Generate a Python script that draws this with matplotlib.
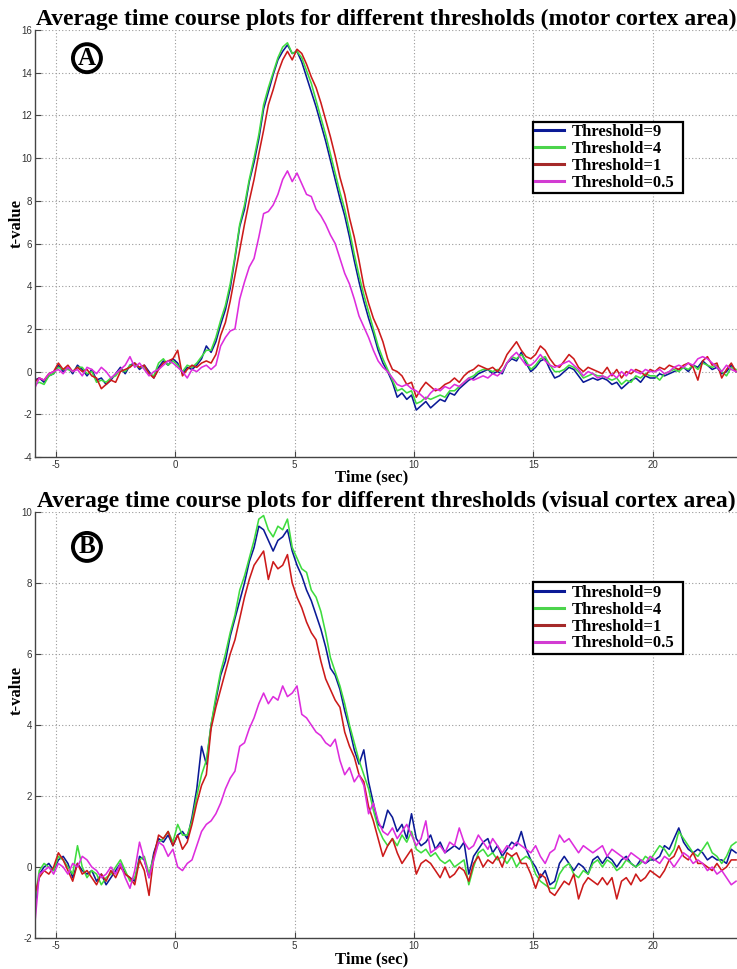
import numpy as np
import matplotlib
matplotlib.use("Agg")
import matplotlib.pyplot as plt

plt.rcParams["axes.unicode_minus"] = False

# ---------------- data ----------------
# common time grid (sec), sampled every 0.2 s
time_sec = np.round(np.arange(-5.9, 23.55, 0.2), 1)

labels = ["Threshold=9", "Threshold=4", "Threshold=1", "Threshold=0.5"]
colors = ["#0b1a96", "#3fdc3f", "#cc1a1a", "#dd2ddd"]
legend_colors = ["#0b1a96", "#4cd44c", "#a52a2a", "#d23cd2"]

# Panel A: motor cortex
motor_thr9 = [
    -0.4, -0.3, -0.5, -0.2, -0.1, 0.3, 0.0, 0.2, -0.1, 0.3,
    0.1, -0.2, 0.1, -0.4, -0.3, -0.6, -0.4, -0.1, 0.2, -0.1,
    0.3, 0.4, 0.1, 0.3, 0.0, -0.3, 0.2, 0.5, 0.3, 0.6,
    0.4, -0.1, 0.2, 0.1, 0.3, 0.6, 1.2, 0.9, 1.4, 2.2,
    2.9, 3.9, 5.3, 6.8, 7.6, 8.9, 9.8, 10.9, 12.3, 13.1,
    13.9, 14.6, 15.0, 15.3, 14.9, 15.0, 14.5, 13.8, 13.1, 12.4,
    11.6, 10.8, 9.9, 9.0, 8.1, 7.3, 6.3, 5.2, 4.2, 3.3,
    2.5, 1.8, 1.0, 0.4, 0.0, -0.5, -1.2, -1.0, -1.3, -1.1,
    -1.8, -1.6, -1.4, -1.7, -1.5, -1.3, -1.4, -1.0, -1.1, -0.8,
    -0.6, -0.4, -0.3, -0.1, 0.0, 0.1, -0.1, 0.0, -0.1, 0.4,
    0.6, 0.5, 0.9, 0.4, 0.0, 0.2, 0.5, 0.6, 0.1, -0.3,
    -0.2, 0.0, 0.2, 0.1, -0.2, -0.5, -0.4, -0.3, -0.4, -0.3,
    -0.4, -0.6, -0.5, -0.8, -0.6, -0.4, -0.3, -0.5, -0.2, -0.3,
    -0.3, -0.1, -0.2, -0.1, 0.0, 0.1, 0.2, 0.0, 0.3, 0.2,
    0.5, 0.3, 0.1, 0.2, -0.1, 0.0, 0.3, 0.0]
motor_thr4 = [
    -0.6, -0.5, -0.6, -0.2, -0.1, 0.2, 0.1, 0.1, 0.0, 0.2,
    0.2, -0.1, 0.0, -0.5, -0.4, -0.5, -0.3, -0.2, 0.1, 0.0,
    0.3, 0.3, 0.2, 0.2, -0.1, -0.2, 0.4, 0.6, 0.3, 0.5,
    0.3, 0.0, 0.3, 0.2, 0.4, 0.7, 1.0, 1.0, 1.6, 2.4,
    3.1, 4.1, 5.4, 6.9, 7.8, 9.0, 10.0, 11.1, 12.5, 13.3,
    14.0, 14.7, 15.2, 15.4, 14.9, 15.0, 14.7, 14.1, 13.5, 12.7,
    11.9, 11.1, 10.2, 9.3, 8.4, 7.6, 6.6, 5.5, 4.5, 3.6,
    2.8, 2.0, 1.2, 0.6, 0.1, -0.4, -0.9, -0.8, -1.0, -0.9,
    -1.5, -1.4, -1.2, -1.3, -1.2, -1.1, -1.2, -0.9, -0.9, -0.7,
    -0.5, -0.3, -0.2, 0.0, 0.1, 0.1, 0.0, 0.1, 0.0, 0.4,
    0.7, 0.6, 0.8, 0.5, 0.1, 0.3, 0.6, 0.7, 0.3, 0.0,
    0.0, 0.1, 0.3, 0.2, 0.0, -0.3, -0.2, -0.1, -0.2, -0.2,
    -0.3, -0.4, -0.3, -0.6, -0.4, -0.5, -0.2, -0.3, -0.1, -0.2,
    -0.2, -0.4, -0.1, 0.0, 0.1, 0.0, 0.2, 0.1, 0.3, 0.1,
    0.4, 0.3, 0.2, 0.3, 0.0, -0.2, 0.2, 0.1]
motor_thr1 = [
    -0.5, -0.3, -0.4, -0.1, 0.0, 0.4, 0.1, 0.3, 0.0, 0.2,
    0.0, 0.1, -0.2, -0.3, -0.8, -0.6, -0.4, -0.5, 0.0, 0.1,
    0.2, 0.4, 0.2, 0.3, -0.1, -0.3, 0.1, 0.4, 0.5, 0.6,
    1.0, -0.2, 0.1, 0.3, 0.2, 0.4, 0.5, 0.4, 0.8, 1.7,
    2.3, 3.3, 4.5, 5.7, 6.9, 8.0, 9.0, 10.2, 11.3, 12.5,
    13.2, 14.0, 14.6, 15.0, 14.6, 15.1, 14.9, 14.4, 13.8, 13.3,
    12.6, 11.8, 11.0, 10.1, 9.1, 8.3, 7.2, 6.3, 5.2, 4.0,
    3.2, 2.5, 2.0, 1.4, 0.6, 0.1, 0.0, -0.2, -0.6, -0.5,
    -1.2, -0.8, -0.5, -0.7, -0.9, -0.8, -0.6, -0.5, -0.3, -0.5,
    -0.2, 0.0, 0.1, 0.3, 0.2, 0.1, 0.2, 0.0, 0.3, 0.8,
    1.1, 1.4, 1.0, 0.7, 0.6, 0.8, 1.2, 1.0, 0.6, 0.3,
    0.2, 0.5, 0.8, 0.6, 0.2, 0.0, 0.2, 0.1, 0.0, -0.1,
    0.2, -0.2, 0.1, -0.3, 0.0, -0.1, 0.1, 0.0, -0.2, 0.1,
    0.0, 0.2, 0.1, 0.3, 0.2, 0.1, 0.3, 0.4, 0.2, -0.4,
    0.5, 0.7, 0.3, 0.4, -0.3, 0.1, 0.4, 0.0]
motor_thr05 = [
    -0.8, -0.3, -0.4, -0.1, 0.0, 0.1, -0.1, 0.2, 0.0, 0.1,
    -0.2, 0.2, 0.1, -0.1, 0.2, 0.0, -0.3, -0.1, 0.1, 0.3,
    0.7, 0.2, 0.4, 0.1, -0.2, 0.0, 0.1, 0.3, 0.5, 0.4,
    0.2, 0.0, -0.3, 0.1, 0.0, 0.2, 0.3, 0.1, 0.3, 1.2,
    1.6, 1.9, 2.0, 3.4, 4.2, 4.9, 5.3, 6.3, 7.4, 7.5,
    7.8, 8.3, 9.0, 9.4, 8.9, 9.3, 8.8, 8.3, 8.2, 7.6,
    7.3, 6.9, 6.4, 6.0, 5.3, 4.6, 4.1, 3.4, 2.6, 2.1,
    1.6, 1.0, 0.5, 0.2, 0.0, -0.3, -0.6, -0.7, -0.6, -0.8,
    -0.9, -1.1, -1.3, -1.0, -0.8, -0.9, -0.7, -0.8, -0.6, -0.7,
    -0.5, -0.3, -0.4, -0.3, -0.2, -0.3, -0.1, -0.2, 0.0, 0.4,
    0.7, 0.9, 0.6, 0.3, 0.3, 0.5, 0.8, 0.5, 0.3, 0.2,
    0.3, 0.4, 0.5, 0.3, 0.1, -0.2, 0.0, -0.1, -0.3, -0.2,
    -0.3, -0.1, -0.3, 0.0, -0.2, 0.1, 0.0, -0.1, 0.1, 0.0,
    0.0, 0.1, -0.1, 0.0, 0.2, 0.3, 0.2, 0.4, 0.3, 0.6,
    0.7, 0.6, 0.4, 0.2, 0.0, 0.3, 0.1, 0.0]

# Panel B: visual cortex
visual_thr9 = [
    -1.2, -0.2, 0.0, 0.1, -0.1, 0.2, 0.3, 0.1, -0.3, 0.1,
    -0.1, -0.2, -0.1, -0.4, -0.2, -0.5, -0.3, -0.1, 0.1, -0.2,
    -0.3, -0.4, 0.3, 0.2, -0.3, 0.4, 0.8, 0.7, 0.9, 0.6,
    0.9, 1.0, 0.8, 1.4, 2.2, 3.4, 2.9, 4.0, 4.7, 5.4,
    5.8, 6.5, 7.0, 7.5, 8.0, 8.6, 9.0, 9.6, 9.5, 9.2,
    8.9, 9.2, 9.3, 9.5, 8.9, 8.5, 8.2, 7.8, 7.5, 7.1,
    6.7, 6.2, 5.6, 5.4, 5.0, 4.4, 3.9, 3.3, 2.9, 3.3,
    2.4, 1.8, 1.2, 1.1, 1.6, 1.4, 1.0, 1.2, 0.8, 1.5,
    0.8, 0.6, 0.7, 0.9, 0.5, 0.7, 0.4, 0.5, 0.6, 0.5,
    0.7, -0.2, 0.3, 0.5, 0.7, 0.8, 0.4, 0.6, 0.3, 0.5,
    0.7, 0.6, 1.0, 0.5, 0.2, 0.0, -0.3, -0.1, -0.5, -0.4,
    0.1, 0.3, 0.1, -0.1, 0.1, 0.0, -0.2, 0.2, 0.3, 0.1,
    0.3, 0.2, 0.0, 0.2, 0.3, 0.1, 0.0, 0.2, 0.1, 0.2,
    0.2, 0.3, 0.6, 0.5, 0.8, 1.1, 0.7, 0.5, 0.4, 0.5,
    0.4, 0.2, 0.3, 0.2, 0.2, 0.1, 0.5, 0.4]
visual_thr4 = [
    -1.0, -0.1, 0.1, 0.0, -0.1, 0.3, 0.2, 0.0, -0.2, 0.6,
    0.0, -0.3, -0.1, -0.2, -0.5, -0.3, -0.2, 0.0, 0.2, -0.1,
    -0.4, -0.3, 0.2, 0.3, -0.2, 0.3, 0.7, 0.8, 1.0, 0.7,
    1.2, 0.9, 0.9, 1.3, 2.0, 2.6, 3.0, 4.0, 4.8, 5.5,
    6.0, 6.6, 7.1, 7.8, 8.2, 8.7, 9.2, 9.8, 9.9, 9.5,
    9.3, 9.6, 9.5, 9.8, 9.0, 8.7, 8.4, 8.3, 7.8, 7.6,
    7.2, 6.6, 5.9, 5.5, 5.1, 4.6, 4.0, 3.5, 3.0, 2.6,
    2.2, 1.6, 1.1, 0.8, 0.6, 0.8, 0.6, 0.9, 0.7, 1.0,
    0.5, 0.4, 0.5, 0.3, 0.4, 0.2, 0.1, 0.2, 0.0, 0.1,
    0.2, -0.5, 0.0, 0.4, 0.5, 0.3, 0.4, 0.2, 0.3, 0.1,
    0.3, 0.0, 0.2, 0.3, 0.2, -0.2, -0.4, -0.5, -0.6, -0.6,
    -0.2, 0.0, 0.1, -0.2, -0.3, -0.1, -0.2, 0.1, 0.2, 0.0,
    0.2, 0.1, -0.1, 0.0, 0.2, 0.1, 0.0, 0.1, 0.3, 0.2,
    0.4, 0.6, 0.5, 0.3, 0.5, 1.0, 0.8, 0.6, 0.4, 0.3,
    0.5, 0.7, 0.4, 0.3, 0.1, 0.3, 0.6, 0.7]
visual_thr1 = [
    -0.8, -0.3, -0.1, -0.2, 0.0, 0.4, 0.2, -0.1, -0.4, 0.1,
    -0.2, -0.1, -0.3, -0.5, -0.2, -0.4, -0.1, -0.3, 0.0, -0.2,
    -0.3, -0.5, 0.2, -0.1, -0.8, 0.3, 0.9, 0.8, 1.0, 0.6,
    0.9, 0.5, 0.7, 1.2, 1.8, 2.3, 2.6, 3.9, 4.5, 5.0,
    5.5, 6.0, 6.4, 7.0, 7.6, 8.1, 8.5, 8.7, 8.9, 8.1,
    8.6, 8.4, 8.5, 8.8, 8.0, 7.6, 7.3, 6.9, 6.6, 6.4,
    5.8, 5.3, 5.0, 4.7, 4.5, 3.8, 3.4, 3.1, 2.6, 2.4,
    1.7, 1.3, 0.8, 0.3, 0.6, 0.8, 0.4, 0.1, 0.3, 0.5,
    -0.2, 0.1, 0.2, 0.1, -0.1, -0.3, 0.0, -0.3, -0.2, 0.0,
    -0.1, -0.4, 0.1, 0.3, 0.0, 0.2, 0.1, 0.3, 0.0, 0.4,
    0.3, 0.4, 0.1, 0.1, -0.2, -0.6, -0.2, -0.3, -0.7, -0.8,
    -0.6, -0.4, -0.5, -0.2, -0.9, -0.5, -0.3, -0.4, -0.5, -0.3,
    -0.5, -0.3, -0.9, -0.4, -0.3, -0.5, -0.2, -0.4, -0.3, -0.1,
    -0.2, -0.3, -0.1, 0.2, 0.3, 0.6, 0.3, 0.2, 0.4, 0.1,
    0.1, 0.0, -0.1, 0.1, -0.1, 0.0, 0.2, 0.2]
visual_thr05 = [
    -1.7, -0.2, -0.1, 0.0, -0.2, 0.1, 0.0, -0.2, 0.1, 0.0,
    0.3, 0.2, 0.0, -0.1, -0.3, -0.2, 0.0, -0.2, 0.1, -0.3,
    -0.6, -0.1, 0.7, 0.2, -0.3, 0.2, 0.7, 0.6, 0.3, 0.5,
    0.0, -0.1, 0.1, 0.2, 0.6, 1.0, 1.2, 1.3, 1.5, 1.8,
    2.2, 2.5, 2.7, 3.4, 3.5, 3.9, 4.2, 4.6, 4.9, 4.6,
    4.8, 4.7, 5.1, 4.8, 4.9, 5.1, 4.3, 4.2, 4.0, 3.8,
    3.7, 3.5, 3.4, 3.6, 3.0, 2.6, 2.8, 2.4, 2.6, 2.3,
    1.5, 1.8, 1.3, 1.0, 0.9, 1.1, 0.8, 1.0, 1.2, 0.9,
    0.6, 0.8, 1.3, 0.4, 0.5, 0.6, 0.4, 0.7, 0.6, 1.1,
    0.7, 0.5, 0.6, 0.9, 0.7, 0.5, 0.8, 0.6, 0.4, 0.6,
    0.5, 0.7, 0.6, 0.5, 0.4, 0.6, 0.3, 0.1, 0.4, 0.5,
    0.9, 0.7, 0.8, 0.6, 0.4, 0.6, 0.5, 0.4, 0.5, 0.6,
    0.3, 0.5, 0.4, 0.3, 0.2, 0.4, 0.3, 0.2, 0.1, 0.3,
    0.2, 0.1, 0.3, 0.2, 0.0, 0.2, 0.4, 0.3, 0.1, 0.2,
    0.1, -0.1, 0.0, -0.2, -0.1, -0.3, -0.5, -0.4]

x_ticks = [-5, 0, 5, 10, 15, 20]
yticks_A = list(range(-4, 17, 2))
yticks_B = list(range(-2, 11, 2))

titles = ["Average time course plots for different thresholds (motor cortex area)",
          "Average time course plots for different thresholds (visual cortex area)"]
panel_letters = ["A", "B"]

# ---------------- figure ----------------
W, H = 737, 969
fig = plt.figure(figsize=(W / 100, H / 100), dpi=100)
serif = ["Liberation Serif", "DejaVu Serif"]

def px_axes(left, top, right, bottom):
    return [left / W, 1 - bottom / H, (right - left) / W, (bottom - top) / H]

axA = fig.add_axes(px_axes(35, 30, 737, 457))
axB = fig.add_axes(px_axes(35, 512, 737, 938))

panels = [
    (axA, [motor_thr9, motor_thr4, motor_thr1, motor_thr05], (-4, 16), yticks_A,
     (0.709, 0.618, 0.214, 0.164), 0.934, 0.548, -0.028),
    (axB, [visual_thr9, visual_thr4, visual_thr1, visual_thr05], (-2, 10), yticks_B,
     (0.709, 0.667, 0.214, 0.166), 0.918, 0.58, -0.032),
]

for i, (ax, series, ylim, yticks, legbox, letter_y, ylab_y, xlab_y) in enumerate(panels):
    handles = []
    for s, c, lc, lab in zip(series, colors, legend_colors, labels):
        ax.plot(time_sec, s, color=c, lw=1.15)
        h, = ax.plot([], [], color=lc, lw=2.2, label=lab)
        handles.append(h)
    ax.set_xlim(-5.88, 23.54)
    ax.set_ylim(*ylim)
    ax.set_xticks(x_ticks)
    ax.set_yticks(yticks)
    ax.grid(True, color="#9a9a9a", linestyle=(0, (1, 2)), linewidth=0.8)
    ax.set_axisbelow(True)
    for sp in ["top", "right"]:
        ax.spines[sp].set_visible(False)
    for sp in ["left", "bottom"]:
        ax.spines[sp].set_color("#444444")
        ax.spines[sp].set_linewidth(1.0)
    ax.tick_params(direction="in", length=4.5, width=0.8, colors="#444444",
                   labelsize=7, labelcolor="#333333", pad=2)
    for lbl in ax.get_xticklabels() + ax.get_yticklabels():
        lbl.set_fontfamily(["Liberation Sans", "DejaVu Sans"])
    ax.set_title(titles[i], fontfamily=serif, fontweight="bold", fontsize=17,
                 pad=3)
    ax.set_xlabel("Time (sec)", fontfamily=serif, fontweight="bold", fontsize=12)
    ax.xaxis.set_label_coords(0.479, xlab_y)
    ax.set_ylabel("t-value", fontfamily=serif, fontweight="bold", fontsize=12)
    ax.yaxis.set_label_coords(-0.014, ylab_y)
    leg = ax.legend(handles=handles, loc="lower left",
                    bbox_to_anchor=legbox, mode="expand",
                    prop={"family": serif, "weight": "bold", "size": 12},
                    frameon=True, fancybox=False, framealpha=1, edgecolor="black",
                    handlelength=1.7, handletextpad=0.5, labelspacing=0.05,
                    borderpad=0.15, borderaxespad=0)
    leg.get_frame().set_linewidth(1.6)
    ax.text(0.074, letter_y, panel_letters[i], transform=ax.transAxes,
            ha="center", va="center", fontfamily=serif, fontweight="bold",
            fontsize=18,
            bbox=dict(boxstyle="circle,pad=0.1", fc="white", ec="black", lw=2.8))

fig.savefig("out.png", dpi=100)
